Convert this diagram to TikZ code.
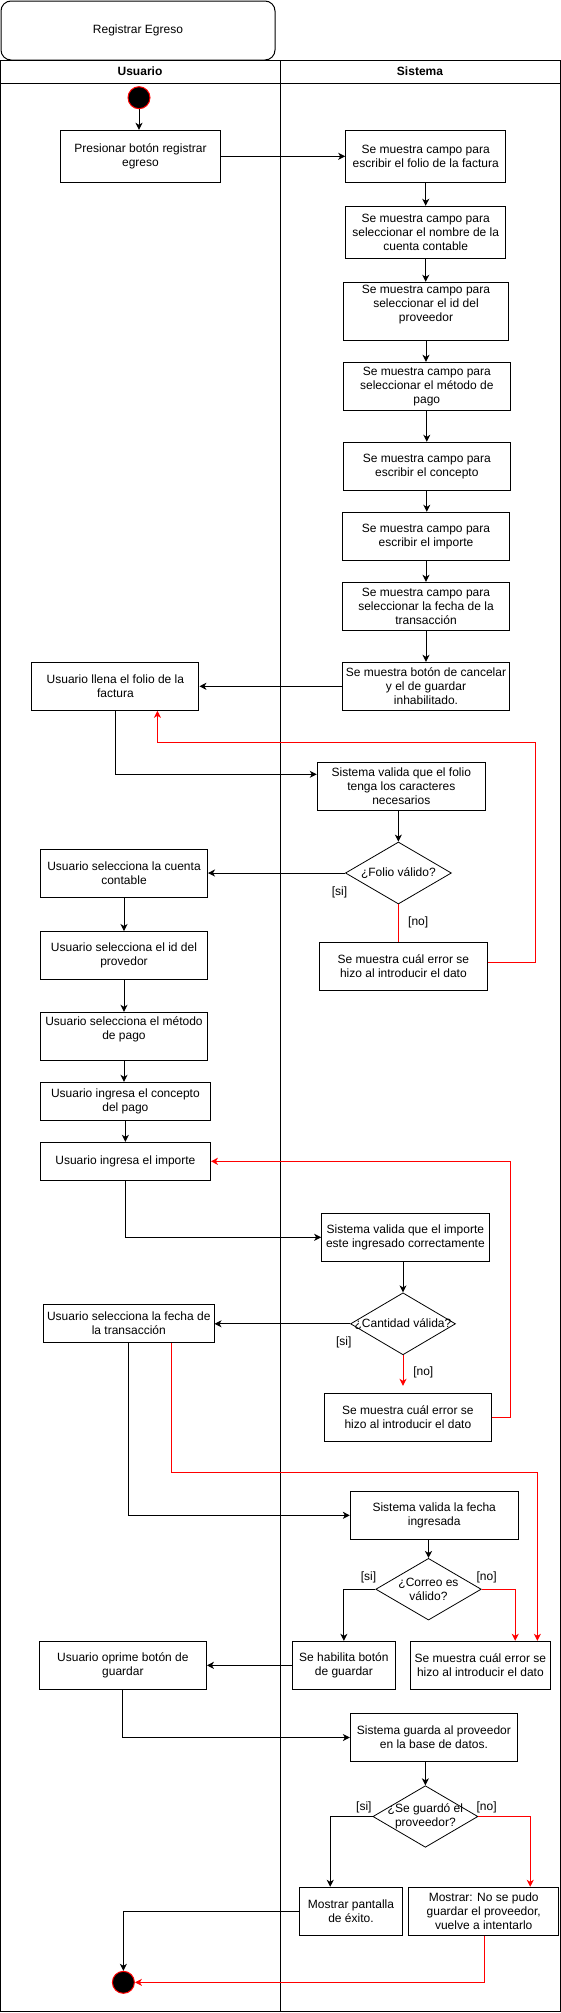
\documentclass[tikz,border=0pt]{standalone}
\usepackage{fontspec}
\setmainfont{Liberation Sans}
\usetikzlibrary{shapes.geometric,arrows.meta,calc}
\begin{document}
\begin{tikzpicture}[x=1pt,y=-1pt,
  every node/.style={font=\fontsize{12}{14}\selectfont},
  box/.style={draw, line width=1pt, align=center, inner sep=0pt, fill=white},
  dia/.style={draw, diamond, line width=0.8pt, inner sep=0pt, fill=white},
  txt/.style={align=center, inner sep=0pt},
  lbl/.style={inner sep=0pt},
  arr/.style={line width=1pt, -{Stealth[length=7pt,width=7pt,inset=2pt]}},
  rarr/.style={arr, red},
  rline/.style={line width=1pt, red},
  dot/.style={circle, fill=black, draw=red, line width=1pt, minimum size=22pt, inner sep=0pt}
]
\useasboundingbox (0,0) rectangle (561,2013);
% title and lanes
\node[draw, rounded corners=10pt, minimum width=274, minimum height=59, line width=1pt] (title) at (138,30.5) {Registrar Egreso};
\draw[line width=1pt] (0.5,60) rectangle (560,2011.5);
\draw[line width=1pt] (0.5,83) -- (560,83);
\draw[line width=0.8pt] (280,60) -- (280,2011.5);
\node[font=\fontsize{12}{14}\selectfont\bfseries] (hu) at (140,71.5) {Usuario};
\node[font=\fontsize{12}{14}\selectfont\bfseries] (hs) at (420,71.5) {Sistema};

% nodes
\node[dot] (start) at (139,97.7) {};
\node[box, minimum width=160, minimum height=52] (P1) at (140.5,156.3) {Presionar botón registrar\\egreso};
\node[box, minimum width=160, minimum height=52] (S1) at (425.7,156.3) {Se muestra campo para\\escribir el folio de la factura};
\node[box, minimum width=160, minimum height=52] (S2) at (425.7,232.3) {Se muestra campo para\\seleccionar el nombre de la\\cuenta contable};
\node[box, minimum width=165, minimum height=58] (S3) at (426,311.3) {};
\node[txt] (S3t) at (426,304.7) {Se muestra campo para\\seleccionar el id del\\proveedor};
\node[box, minimum width=167, minimum height=48] (S4) at (426.8,386.3) {Se muestra campo para\\seleccionar el método de\\pago};
\node[box, minimum width=167, minimum height=48] (S5) at (426.8,466.3) {Se muestra campo para\\escribir el concepto};
\node[box, minimum width=167, minimum height=48] (S6) at (426,536.3) {Se muestra campo para\\escribir el importe};
\node[box, minimum width=167, minimum height=48] (S7) at (426,606.3) {Se muestra campo para\\seleccionar la fecha de la\\transacción};
\node[box, minimum width=167, minimum height=48] (S8) at (426,686.3) {Se muestra botón de cancelar\\y el de guardar\\inhabilitado.};
\node[box, minimum width=167, minimum height=48] (U1) at (115.4,686.3) {Usuario llena el folio de la\\factura};
\node[box, minimum width=168, minimum height=48] (V1) at (401.3,786.3) {Sistema valida que el folio\\tenga los caracteres\\necesarios};
\node[dia, minimum width=106, minimum height=62] (D1) at (398.4,873) {};
\node[txt] (D1t) at (398.4,873) {¿Folio válido?};
\node[box, minimum width=167, minimum height=48] (U2) at (124,873) {Usuario selecciona la cuenta\\contable};
\node[box, minimum width=168, minimum height=48] (E1) at (403.4,966.3) {Se muestra cuál error se\\hizo al introducir el dato};
\node[box, minimum width=167, minimum height=48] (U3) at (124,955.5) {Usuario selecciona el id del\\provedor};
\node[box, minimum width=167, minimum height=48] (U4) at (124,1036.3) {};
\node[txt] (U4t) at (124,1029.7) {Usuario selecciona el método\\de pago};
\node[box, minimum width=170, minimum height=38] (U5) at (125.4,1101.3) {Usuario ingresa el concepto\\del pago};
\node[box, minimum width=170, minimum height=38] (U6) at (125.4,1161.3) {Usuario ingresa el importe};
\node[box, minimum width=167.5, minimum height=48] (V2) at (405.4,1237.3) {Sistema valida que el importe\\este ingresado correctamente};
\node[dia, minimum width=105, minimum height=62] (D2) at (403,1323.8) {};
\node[txt] (D2t) at (403,1323.8) {¿Cantidad válida?};
\node[box, minimum width=170.4, minimum height=38] (U7) at (128.8,1323.3) {Usuario selecciona la fecha de\\la transacción};
\node[box, minimum width=166.7, minimum height=48] (E2) at (407.9,1417.3) {Se muestra cuál error se\\hizo al introducir el dato};
\node[box, minimum width=167.7, minimum height=48] (V3) at (434.2,1515.3) {Sistema valida la fecha\\ingresada};
\node[dia, minimum width=105.5, minimum height=61.7] (D3) at (428.5,1589.2) {};
\node[txt] (D3t) at (428.5,1589.6) {¿Correo es\\válido?};
\node[box, minimum width=102.3, minimum height=48] (S9) at (343.9,1665.3) {Se habilita botón\\de guardar};
\node[box, minimum width=140, minimum height=48] (E3) at (480.4,1665.3) {Se muestra cuál error se\\hizo al introducir el dato};
\node[box, minimum width=167, minimum height=48] (U8) at (122.9,1665.3) {Usuario oprime botón de\\guardar};
\node[box, minimum width=167, minimum height=47.6] (V4) at (433.9,1737.5) {Sistema guarda al proveedor\\en la base de datos.};
\node[dia, minimum width=105, minimum height=61.6] (D4) at (425.4,1816.5) {};
\node[txt] (D4t) at (425.4,1816.7) {¿Se guardó el\\proveedor?};
\node[box, minimum width=102.3, minimum height=48] (S10) at (351,1911.3) {Mostrar pantalla\\de éxito.};
\node[box, minimum width=150, minimum height=48] (S11) at (483.7,1911.3) {Mostrar: No se pudo\\guardar el proveedor,\\vuelve a intentarlo};
\node[dot] (end) at (123.4,1982.3) {};

% guard labels
\node[lbl] (l1) at (339.5,892.3) {[si]};
\node[lbl] (l2) at (418.2,922) {[no]};
\node[lbl] (l3) at (343.8,1342.7) {[si]};
\node[lbl] (l4) at (423.3,1372.7) {[no]};
\node[lbl] (l5) at (368.5,1577.7) {[si]};
\node[lbl] (l6) at (486.6,1577.7) {[no]};
\node[lbl] (l7) at (363.9,1807.7) {[si]};
\node[lbl] (l8) at (486.6,1807.7) {[no]};

% connectors
\draw[arr] (start.south) -- (start.south |- P1.north);
\draw[arr] (P1.east) -- (P1.east -| S1.west);
\foreach \a/\b in {S1/S2,S2/S3,S3/S4,S4/S5,S5/S6,S6/S7,S7/S8}
  \draw[arr] (\a.south) -- (\a.south |- \b.north);
\draw[arr] (S8.west) -- (S8.west -| U1.east);
\draw[arr] (U1.south) |- ([yshift=12pt]V1.west);
\draw[arr] (D1.north |- V1.south) -- (D1.north);
\draw[arr] (D1.west) -- (D1.west -| U2.east);
\draw[rline] (D1.south) -- (D1.south |- E1.north);
\coordinate (r1a) at (535.2,742.3);
\coordinate (r1b) at (157.4,742.3);
\draw[rarr] ([yshift=4pt]E1.east) -| (r1a) -- (r1b) -- (r1b |- U1.south);
\foreach \a/\b in {U2/U3,U3/U4,U4/U5,U5/U6}
  \draw[arr] (\a.south) -- (\a.south |- \b.north);
\draw[arr] (U6.south) |- (V2.west);
\draw[arr] (D2.north |- V2.south) -- (D2.north);
\draw[arr] (D2.west) -- (D2.west -| U7.east);
\draw[rarr] (D2.south) -- ($(D2.south |- E2.north)+(0,-7)$);
\coordinate (r2) at (510.9,1161.3);
\draw[rarr] (E2.east) -| (r2) -- (U6.east);
\draw[arr] (U7.south) |- (V3.west);
\coordinate (r3) at (537.4,1472.3);
\draw[rarr] ([xshift=43pt]U7.south) |- (r3) -- (r3 |- E3.north);
\draw[arr] (D3.north |- V3.south) -- (D3.north);
\draw[arr] (D3.west) -| (S9.north);
\draw[rarr] (D3.east) -| ([xshift=34.8pt]E3.north);
\draw[arr] (S9.west) -- (S9.west -| U8.east);
\draw[arr] (U8.south) |- (V4.west);
\draw[arr] (D4.north |- V4.south) -- (D4.north);
\draw[arr] (D4.west) -| ([xshift=-20.8pt]S10.north);
\draw[rarr] (D4.east) -| ([xshift=46.5pt]S11.north);
\draw[arr] (S10.west) -| (end.north);
\draw[rarr] ([xshift=0.7pt]S11.south) |- (end.east);
\end{tikzpicture}
\end{document}
